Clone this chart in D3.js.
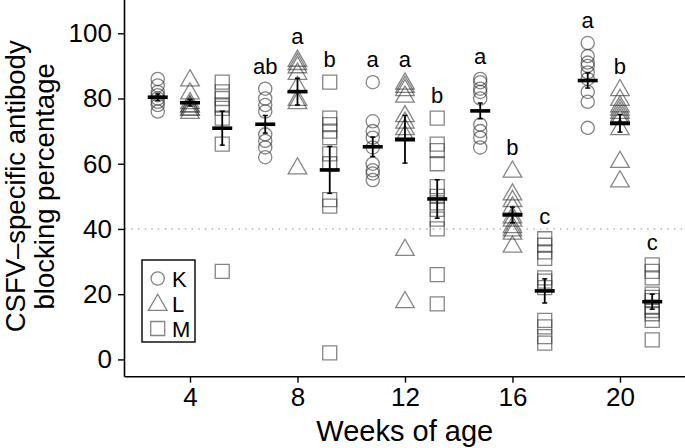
<!DOCTYPE html>
<html><head><meta charset="utf-8">
<script src="https://cdn.jsdelivr.net/npm/d3@7"></script>
<style>body{margin:0;background:#fff}svg{display:block}text{font-family:"Liberation Sans",Arial,Helvetica,sans-serif}</style>
</head><body>
<script>
const weeks = [4, 8, 12, 16, 20];
const groups = ["K", "L", "M"];
const valuesK = [[86,84,82,81,80,79,78,76],[83,80,78,76,69,67,65,62],[85,73,70,68,65,60,58,57,55],[86,85,83,82,80,72,70,68,65],[97,93,91,90,88,86,82,79,71]];
const valuesL = [[86,82,79,78,78,77,77,76],[92,91,90,88,84,80,79,59],[85,84,83,81,75,73,71,69,34,18],[58,51,49,47,44,43,41,40,39,35],[83,80,78,77,76,75,74,71,61,55]];
const valuesM = [[85,82,80,78,77,74,66,27],[85,74,72,70,68,63,60,49,47,2],[74,66,64,60,53,50,48,46,43,40,26,17],[37,35,33,31,25,24,22,12,10,7,5],[29,27,25,20,19,18,16,15,14,12,6]];
const meanK = [80.4, 72.1, 65.2, 76.2, 85.5];
const meanL = [78.7, 82.1, 67.5, 44.3, 72.4];
const meanM = [70.9, 58.1, 49.2, 21.0, 17.7];
const seK = [1.0, 2.7, 3.0, 2.4, 2.3];
const seL = [1.0, 4.1, 7.3, 2.4, 2.7];
const seM = [5.2, 7.2, 5.9, 3.7, 2.3];
const lettersK = ["", "ab", "a", "a", "a"];
const lettersL = ["", "a", "a", "b", "b"];
const lettersM = ["", "b", "b", "c", "c"];
const yTicks = [0, 20, 40, 60, 80, 100];
const threshold = 40;
const xTitle = "Weeks of age";
const yTitle = ["CSFV\u2013specific antibody", "blocking percentage"];

const W = 685, H = 448;
const L0 = 124.5, R0 = 685, T0 = 0, B0 = 376.7;
const svg = d3.select("body").append("svg").attr("width", W).attr("height", H);

const x = d3.scaleLinear().domain([1.563, 22.42]).range([L0, R0]);
const y = d3.scaleLinear().domain([-5.3, 110.2]).range([B0, T0]);
const dodge = {K: -1.2, L: 0, M: 1.2};
const vals = {K: valuesK, L: valuesL, M: valuesM};
const means = {K: meanK, L: meanL, M: meanM};
const ses = {K: seK, L: seL, M: seM};
const letters = {K: lettersK, L: lettersL, M: lettersM};
const shapes = {K: d3.symbolCircle, L: d3.symbolTriangle, M: d3.symbolSquare};
const sizes = {K: 137, L: 150, M: 196};
const sym = g => d3.symbol().type(shapes[g]).size(sizes[g])();

// threshold line
svg.append("line").attr("x1", L0).attr("x2", R0).attr("y1", y(threshold)).attr("y2", y(threshold))
  .attr("stroke", "#b5b5b5").attr("stroke-width", 1.5).attr("stroke-dasharray", "1.5,5.2");

// points
groups.forEach(g => {
  weeks.forEach((w, i) => {
    vals[g][i].forEach(v => {
      svg.append("path").attr("d", sym(g))
        .attr("transform", `translate(${x(w + dodge[g])},${y(v) + (g === "L" ? 1.5 : 0)})`)
        .attr("fill", "none").attr("stroke", "#333").attr("stroke-opacity", 0.6).attr("stroke-width", 1.3);
    });
  });
});

// mean and error bars
groups.forEach(g => {
  weeks.forEach((w, i) => {
    const cx = x(w + dodge[g]), m = means[g][i], s = ses[g][i];
    svg.append("line").attr("x1", cx).attr("x2", cx).attr("y1", y(m - s)).attr("y2", y(m + s))
      .attr("stroke", "#000").attr("stroke-width", 1.8);
    [m - s, m + s].forEach(v => svg.append("line").attr("x1", cx - 2.5).attr("x2", cx + 2.5)
      .attr("y1", y(v)).attr("y2", y(v)).attr("stroke", "#000").attr("stroke-width", 1.5));
    svg.append("line").attr("x1", cx - 10).attr("x2", cx + 10).attr("y1", y(m)).attr("y2", y(m))
      .attr("stroke", "#000").attr("stroke-width", 3.6);
  });
});

// letters
groups.forEach(g => {
  weeks.forEach((w, i) => {
    if (!letters[g][i]) return;
    svg.append("text").attr("x", x(w + dodge[g])).attr("y", y(d3.max(vals[g][i])) - 15)
      .attr("text-anchor", "middle").attr("font-size", 22).attr("fill", "#000").text(letters[g][i]);
  });
});

// axes
const yAxis = d3.axisLeft(y).tickValues(yTicks).tickSize(6.5).tickPadding(6);
const gy = svg.append("g").attr("transform", `translate(${L0},0)`).call(yAxis);
gy.select(".domain").attr("d", `M0,${T0}V${B0}`).attr("stroke-width", 1.6);
gy.selectAll(".tick line").attr("stroke-width", 1.4);
gy.selectAll("text").attr("font-size", 26).attr("fill", "#000").attr("font-family", '"Liberation Sans",Arial,sans-serif');

const xAxis = d3.axisBottom(x).tickValues(weeks).tickSize(6).tickPadding(5);
const gx = svg.append("g").attr("transform", `translate(0,${B0})`).call(xAxis);
gx.select(".domain").attr("d", `M${L0},0H${R0}`).attr("stroke-width", 1.6);
gx.selectAll(".tick line").attr("stroke-width", 1.4);
gx.selectAll("text").attr("font-size", 26).attr("fill", "#000").attr("font-family", '"Liberation Sans",Arial,sans-serif');

// titles
svg.append("text").attr("x", (L0 + R0) / 2 + 0).attr("y", 441).attr("text-anchor", "middle")
  .attr("font-size", 29).text(xTitle);
const yt = svg.append("g").attr("transform", `translate(0,${(T0 + B0) / 2 - 2})rotate(-90)`);
yTitle.forEach((t, k) => yt.append("text").attr("x", 0).attr("y", 24.5 + k * 29.5)
  .attr("text-anchor", "middle").attr("font-size", 27.5).text(t));

// legend
const lg = svg.append("g");
lg.append("rect").attr("x", 142).attr("y", 260).attr("width", 53).attr("height", 82)
  .attr("fill", "#fff").attr("stroke", "#000").attr("stroke-width", 1.4);
groups.forEach((g, k) => {
  const cy = 278.5 + k * 25;
  lg.append("path").attr("d", sym(g)).attr("transform", `translate(157.7,${cy + (g === "L" ? 1.5 : 0)})`)
    .attr("fill", "none").attr("stroke", "#333").attr("stroke-opacity", 0.6).attr("stroke-width", 1.3);
  lg.append("text").attr("x", 172).attr("y", cy + 8).attr("font-size", 22).text(g);
});
</script>
</body></html>
